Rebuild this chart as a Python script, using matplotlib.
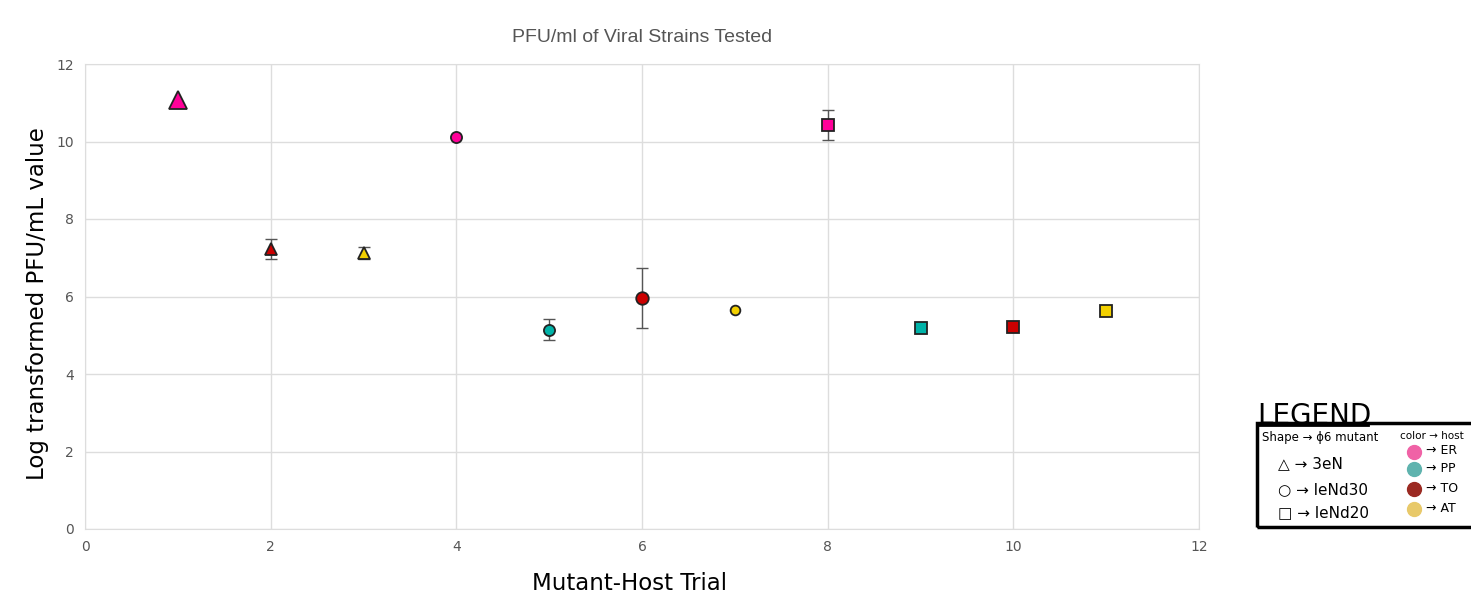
import matplotlib
matplotlib.use("Agg")
import matplotlib.pyplot as plt
from matplotlib.patches import Rectangle
from matplotlib.lines import Line2D

# ---- data ----
trials = [1, 2, 3, 4, 5, 6, 7, 8, 9, 10, 11]
log_pfu = [11.07, 7.23, 7.12, 10.12, 5.14, 5.96, 5.65, 10.43, 5.19, 5.21, 5.63]
errors = [0.0, 0.25, 0.15, 0.0, 0.27, 0.77, 0.0, 0.38, 0.12, 0.0, 0.1]
shapes = ["^", "^", "^", "o", "o", "o", "o", "s", "s", "s", "s"]
colors = ["#ff0099", "#cc0000", "#f2d000", "#ff0099", "#00b3a8", "#cc0000",
          "#f2d000", "#ff0099", "#00b3a8", "#cc0000", "#f2d000"]
sizes = [13, 9, 9, 8, 8, 9, 7, 8, 8, 9, 9]

x_ticks = [0, 2, 4, 6, 8, 10, 12]
y_ticks = [0, 2, 4, 6, 8, 10, 12]

W, H = 1471, 595
fig = plt.figure(figsize=(W / 100, H / 100), dpi=100)
ax = fig.add_axes([85 / W, 66 / H, (1199 - 85) / W, (529 - 64) / H])

for x, y, e, m, c, s in zip(trials, log_pfu, errors, shapes, colors, sizes):
    if e > 0:
        ax.errorbar(x, y, yerr=e, fmt="none", ecolor="#555555", elinewidth=1,
                    capsize=4, capthick=1, zorder=3)
    ax.plot(x, y, marker=m, markersize=s, markerfacecolor=c,
            markeredgecolor="#222222", markeredgewidth=1.3, linestyle="none", zorder=4)

ax.set_xlim(0, 12)
ax.set_ylim(0, 12)
ax.set_xticks(x_ticks)
ax.set_yticks(y_ticks)
ax.grid(True, color="#dddddd", linewidth=1)
ax.set_axisbelow(True)
for sp in ax.spines.values():
    sp.set_color("#dddddd")
ax.tick_params(length=0, labelsize=10, colors="#555555", pad=8)

ax.set_title("PFU/ml of Viral Strains Tested", fontsize=14, color="#555555",
             family="Liberation Sans", pad=16)


def fx(px):
    return px / W


def fy(py):
    return 1 - py / H


fig.text(fx(630), fy(583), "Mutant-Host Trial", fontsize=16.5, ha="center", va="center")
fig.text(fx(38), fy(304), "Log transformed PFU/mL value", fontsize=16.5, ha="center",
         va="center", rotation=90)

# ---- hand-drawn style legend (clipped by figure edge) ----
fig.text(fx(1257), fy(424), "LEGEND", fontsize=20, ha="left", va="baseline")
fig.add_artist(Line2D([fx(1258), fx(1368)], [fy(425), fy(425)], color="black",
                      lw=2, transform=fig.transFigure))
fig.add_artist(Rectangle((fx(1257), fy(527)), fx(1600) - fx(1257), fy(423) - fy(527),
                         transform=fig.transFigure, fill=False, ec="black", lw=2.5))
fig.text(fx(1262), fy(437), "Shape → ϕ6 mutant", fontsize=8.5, va="center")
fig.text(fx(1400), fy(436), "color → host", fontsize=7.5, va="center")
fig.text(fx(1278), fy(464), "△ → 3eN", fontsize=11, va="center")
fig.text(fx(1278), fy(490), "○ → leNd30", fontsize=11, va="center")
fig.text(fx(1278), fy(513), "□ → leNd20", fontsize=11, va="center")
leg_cols = ["#f062a6", "#5fb3ae", "#9b2a22", "#e8c96a"]
leg_txt = ["→ ER", "→ PP", "→ TO", "→ AT"]
leg_y = [452, 469, 489, 509]
for c, t, yy in zip(leg_cols, leg_txt, leg_y):
    fig.add_artist(Line2D([fx(1414)], [fy(yy)], marker="o", markersize=10,
                          color=c, transform=fig.transFigure, linestyle="none"))
    fig.text(fx(1426), fy(yy - 1), t, fontsize=9, va="center")

fig.savefig("out.png", dpi=100)
